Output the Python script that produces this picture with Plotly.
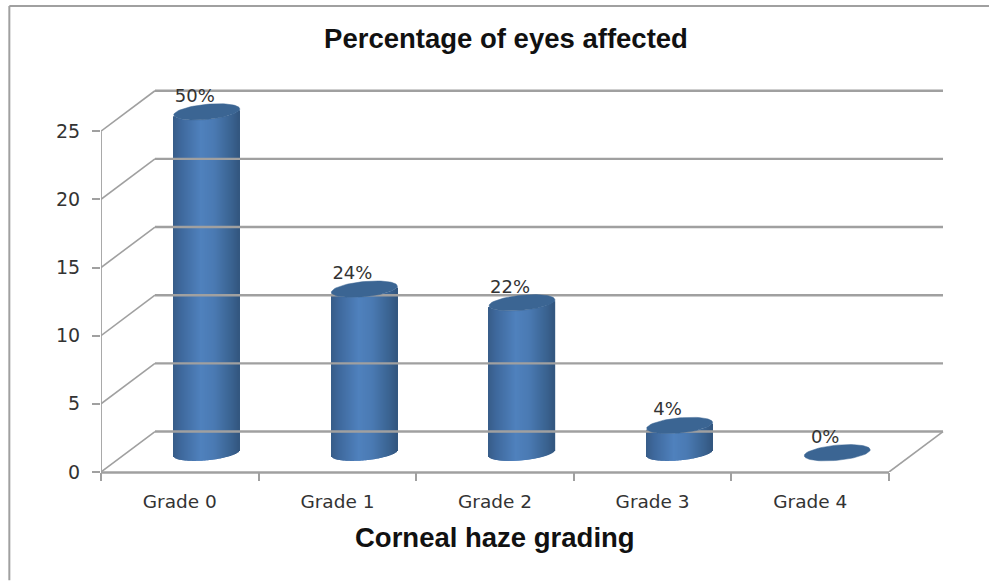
import numpy as np
import plotly.graph_objects as go

# ---- data ----
categories = ["Grade 0", "Grade 1", "Grade 2", "Grade 3", "Grade 4"]
values = [25, 12, 11, 2, 0]
value_labels = ["50%", "24%", "22%", "4%", "0%"]
y_ticks = [0, 5, 10, 15, 20, 25]

# ---- geometry / style ----
W, H = 989, 581
PL, PR, PT, PB = 100.7, 950.0, 85.0, 472.5
PX_X = 157.66
PX_Y = 13.65
DX, DY = 54 / PX_X, 40.5 / PX_Y          # depth of the pseudo-3D box
BAR_DX, BAR_DY = DX / 2, 19.3 / PX_Y     # bars stand in the middle of the floor
A_PX, B_PX, TILT_PX = 33.0, 7.6, 3.0     # cylinder cross-section, in pixels
GRID = "#a0a0a0"
TXT = "#333333"
SANS = "DejaVu Sans"
BOLD = "Liberation Sans"


def lerp(stops, f):
    fs = [s[0] for s in stops]
    rgb = [np.interp(f, fs, [int(s[1][i:i + 2], 16) for s in stops]) for i in (1, 3, 5)]
    return "#%02x%02x%02x" % tuple(int(round(c)) for c in rgb)


SHADE = [(0.0, "#375c88"), (0.12, "#3e689c"), (0.42, "#4f81bd"),
         (0.62, "#4a7ab3"), (0.88, "#3a6391"), (1.0, "#33567f")]

fig = go.Figure()


def line(xs, ys, width, color=GRID):
    fig.add_trace(go.Scatter(x=xs, y=ys, mode="lines", cliponaxis=False,
                             line=dict(color=color, width=width),
                             hoverinfo="skip", showlegend=False))


# back wall horizontals and the diagonals on the side wall
for t in y_ticks:
    line([DX, 5 + DX], [t + DY, t + DY], 2.4)
    line([0, DX], [t, t + DY], 1.6)
line([5, 5 + DX], [0, DY], 1.6)
line([0, 0], [0, 25], 1.8)

# cylinder bodies: one narrow bar per pixel column
bx, by, bb, bc, bw = [], [], [], [], []
for i, v in enumerate(values):
    cx = i + 0.5 + BAR_DX
    for k in range(int(2 * A_PX)):
        u = -1 + (k + 0.5) / A_PX
        bx.append(cx + u * A_PX / PX_X)
        by.append(v)
        low = -B_PX * np.sqrt(max(0.0, 1 - u * u)) + TILT_PX * u
        bb.append(BAR_DY + low / PX_Y)
        bc.append(lerp(SHADE, (u + 1) / 2))
        bw.append(1.4 / PX_X)
fig.add_trace(go.Bar(x=bx, y=by, base=bb, width=bw,
                     marker=dict(color=bc, line=dict(width=0)),
                     hoverinfo="skip", showlegend=False))

# cylinder caps
theta = np.linspace(0, 2 * np.pi, 73)
for i, v in enumerate(values):
    cx = i + 0.5 + BAR_DX
    fig.add_trace(go.Scatter(
        x=cx + A_PX * np.cos(theta) / PX_X,
        y=v + BAR_DY + (B_PX * np.sin(theta) + TILT_PX * np.cos(theta)) / PX_Y,
        mode="lines", fill="toself", fillcolor="#3b6593",
        line=dict(color="#3b6593", width=0.5),
        hoverinfo="skip", showlegend=False))

# value labels
fig.add_trace(go.Scatter(
    x=[i + 0.5 + BAR_DX - 12 / PX_X for i in range(len(values))],
    y=[v + BAR_DY + 5.5 / PX_Y for v in values],
    mode="text", text=value_labels, textposition="top center", cliponaxis=False,
    textfont=dict(family=SANS, size=18, color=TXT),
    hoverinfo="skip", showlegend=False))


def px(x):
    return (x - PL) / (PR - PL)


def py(y):
    return (PB - y) / (PB - PT)


fig.update_layout(
    width=W, height=H, autosize=False,
    margin=dict(l=PL, r=W - PR, t=PT, b=H - PB, pad=0),
    paper_bgcolor="white", plot_bgcolor="white",
    barmode="overlay", showlegend=False,
    title=dict(text="<b>Percentage of eyes affected</b>", x=506 / W, xref="container",
               xanchor="center", y=1 - 38 / H, yref="container", yanchor="middle",
               font=dict(family=BOLD, size=27.5, color="#111111")),
    xaxis=dict(range=[0, (PR - PL) / PX_X], tickmode="array",
               tickvals=[i + 0.5 for i in range(len(categories))], ticktext=categories,
               ticks="", showgrid=False, zeroline=False, showline=False,
               ticklabelstandoff=16,
               tickfont=dict(family=SANS, size=18.5, color=TXT),
               minor=dict(tickmode="array", tickvals=list(range(len(categories) + 1)),
                          ticks="outside", ticklen=8, tickwidth=1.5, tickcolor=GRID,
                          showgrid=False)),
    yaxis=dict(range=[0, (PB - PT) / PX_Y], tickmode="array", tickvals=y_ticks,
               ticks="outside", ticklen=8, tickwidth=1.5, tickcolor=GRID,
               showgrid=False, zeroline=False, showline=False,
               ticklabelstandoff=8,
               tickfont=dict(family=SANS, size=19, color=TXT)),
    shapes=[
        dict(type="line", xref="paper", yref="paper", x0=px(9), x1=px(W), y0=py(6), y1=py(6),
             line=dict(color="#a0a0a0", width=2)),
        dict(type="line", xref="paper", yref="paper", x0=px(9), x1=px(9), y0=py(6), y1=py(H),
             line=dict(color="#a0a0a0", width=2)),
        dict(type="line", xref="x", yref="paper", x0=0, x1=5, y0=py(473), y1=py(473),
             line=dict(color=GRID, width=2.4)),
    ],
    annotations=[
        dict(text="<b>Corneal haze grading</b>", xref="paper", yref="paper",
             x=px(494.5), y=py(538), xanchor="center", yanchor="middle", showarrow=False,
             font=dict(family=BOLD, size=27.5, color="#111111")),
    ],
)

fig.write_html("out.html", config={"displayModeBar": False},
               post_script="document.body.style.margin='0';document.body.style.overflow='hidden';")
